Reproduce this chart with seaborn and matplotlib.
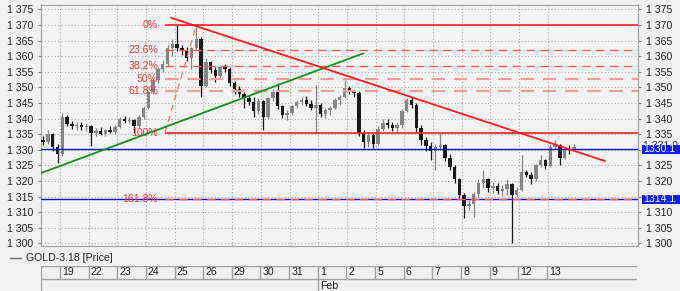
import matplotlib
matplotlib.use("Agg")
import matplotlib.pyplot as plt
import matplotlib.transforms as mtrans
from matplotlib.patches import Rectangle
from matplotlib.lines import Line2D
import numpy as np
import pandas as pd
import seaborn as sns

# ---------------- data ----------------
day_labels = ["19", "22", "23", "24", "25", "26", "29", "30", "31",
              "1", "2", "5", "6", "7", "8", "9", "12", "13"]
month_label = "Feb"
month_day_index = 9
series_name = "GOLD-3.18 [Price]"

opens = [1333, 1332.5, 1335, 1331,
         1328.5, 1340.5, 1338.2, 1337.5, 1338, 1337.2,
         1337.6, 1335.5, 1336, 1335.2, 1336.3, 1335.8,
         1337.2, 1340, 1339.2, 1339.5, 1337.5, 1340.5,
         1343.5, 1348.5, 1352.5, 1355.8, 1357.5, 1362.5,
         1363.8, 1362.5, 1361.5, 1359.5, 1362.5, 1365.5,
         1350.5, 1358, 1355.5, 1353.5, 1356.5, 1356,
         1351.5, 1349.5, 1348, 1346.5, 1345.2, 1342.5,
         1345.5, 1340.5, 1346.5, 1348.5, 1344, 1341.2,
         1341.8, 1344, 1345.3, 1345.8, 1344.8, 1343.5,
         1344.5, 1341.5, 1342.8, 1343.5, 1345.8, 1347,
         1349.8, 1348.5, 1348.2, 1335.5, 1332.5, 1334.8,
         1332, 1336.8, 1338.5, 1338, 1337, 1337.8,
         1342.5, 1345.8, 1344.5, 1337, 1333, 1331.2,
         1329.5, 1330.8, 1331.5, 1327.5, 1324.5, 1320.5,
         1315.5, 1312, 1312.5, 1315.8, 1319.2, 1320.5,
         1317.8, 1318.5, 1316.8, 1317.5, 1319, 1315.5,
         1317, 1322.8, 1322, 1320.5, 1325, 1326.8,
         1324.8, 1331, 1331.5, 1327.5, 1330.2, 1330]
highs = [1334.5, 1336.3, 1335.5, 1332,
         1341.7, 1341, 1339.2, 1338.8, 1339, 1338.5,
         1338, 1337, 1337.2, 1336.8, 1337.5, 1337.8,
         1340.6, 1340.8, 1340.5, 1339.8, 1341, 1344,
         1349, 1353, 1356.5, 1358.8, 1363.5, 1365.5,
         1370.1, 1363.5, 1362.8, 1363, 1369.5, 1366,
         1359.5, 1358.5, 1356.5, 1357, 1357.5, 1356.5,
         1352, 1350.3, 1348.5, 1347.5, 1346.8, 1346.5,
         1346, 1347, 1349.5, 1351.5, 1344.5, 1342.8,
         1344.5, 1346, 1347, 1347.2, 1345.8, 1350.8,
         1345, 1343.5, 1344, 1346.5, 1347.5, 1352.4,
         1350.5, 1349.2, 1348.8, 1336.2, 1335.8, 1335.5,
         1337.5, 1339.8, 1340, 1339, 1338.8, 1343,
         1346.5, 1347, 1345, 1337.8, 1334, 1332.5,
         1332, 1335.3, 1332, 1328.5, 1325.2, 1321,
         1316, 1314, 1316.5, 1320.5, 1323.5, 1321,
         1319.8, 1319.2, 1318.7, 1320.8, 1319.5, 1318,
         1328.3, 1323.5, 1322.8, 1325.5, 1328.2, 1327.2,
         1331.8, 1333.1, 1332, 1330.8, 1331.5, 1332]
lows = [1331.5, 1332, 1329.5, 1325.8,
        1328, 1337.5, 1336.8, 1336.4, 1336.5, 1336,
        1331.2, 1334.5, 1334.8, 1334.3, 1335.3, 1335,
        1337, 1338.6, 1338.5, 1335.5, 1337, 1340,
        1343, 1347.8, 1351.5, 1355, 1357, 1360,
        1361.5, 1360.5, 1358.5, 1355.8, 1362, 1346.8,
        1350, 1354.5, 1351.8, 1353, 1355, 1350.5,
        1347.8, 1347, 1343.3, 1344.5, 1340.6, 1341.5,
        1336.5, 1340, 1345.5, 1343, 1340.2, 1339.5,
        1341.2, 1343.5, 1344.5, 1344, 1342.6, 1335.3,
        1340.5, 1340.1, 1341.3, 1343, 1344.5, 1346.5,
        1347.8, 1347, 1334.5, 1330.5, 1330.8, 1330.5,
        1331.5, 1336, 1337, 1336, 1335.8, 1337,
        1342, 1343.5, 1335.5, 1331.5, 1329.5, 1326.8,
        1323.5, 1330, 1326.5, 1323.5, 1319.5, 1314.5,
        1308, 1310.8, 1308.6, 1315, 1317.8, 1316.5,
        1316, 1315.8, 1315.2, 1315.5, 1300.2, 1315,
        1316.8, 1321.2, 1319, 1320, 1324.5, 1323.8,
        1324.5, 1330.2, 1325.1, 1327, 1328.8, 1329.8]
closes = [1332.5, 1335, 1331, 1328.5,
          1340.5, 1338.2, 1337.5, 1338, 1337.2, 1337.6,
          1335.5, 1336, 1335.2, 1336.3, 1335.8, 1337.2,
          1340, 1339.2, 1339.5, 1337.5, 1340.5, 1343.5,
          1348.5, 1352.5, 1355.8, 1357.5, 1362.5, 1363.8,
          1362.5, 1361.5, 1359.5, 1362.5, 1365.5, 1350.5,
          1358, 1355.5, 1353.5, 1356.5, 1356, 1351.5,
          1349.5, 1348, 1346.5, 1345.2, 1342.5, 1345.5,
          1340.5, 1346.5, 1348.5, 1344, 1341.2, 1341.8,
          1344, 1345.3, 1345.8, 1344.8, 1343.5, 1344.5,
          1341.5, 1342.8, 1343.5, 1345.8, 1347, 1349.8,
          1348.5, 1348.2, 1335.5, 1332.5, 1334.8, 1332,
          1336.8, 1338.5, 1338, 1337, 1337.8, 1342.5,
          1345.8, 1344.5, 1337, 1333, 1331.2, 1329.5,
          1330.8, 1331.5, 1327.5, 1324.5, 1320.5, 1315.5,
          1312, 1312.5, 1315.8, 1319.2, 1320.5, 1317.8,
          1318.5, 1316.8, 1317.5, 1319, 1315.5, 1317,
          1322.8, 1322, 1320.5, 1325, 1326.8, 1324.8,
          1331, 1331.5, 1327.5, 1330.2, 1330, 1331]

# trend lines (day units, price)
support_x = [-0.67, 10.57]
support_y = [1322.5, 1360.9]
resist_x = [3.87, 18.99]
resist_y = [1372.3, 1326.4]

# fibonacci retracement
fib_high = 1370.1
fib_low = 1335.5
fib_levels = [0, 23.6, 38.2, 50, 61.8, 100, 161.8]
fib_labels = ["0%", "23.6%", "38.2%", "50%", "61.8%", "100%", "161.8%"]
fib_x = [3.66, 4.76]   # from low anchor to high anchor

# horizontal price lines with right-side markers
hlines = [1330.1, 1314.1]
hline_labels = ["1330.1", "1314.1"]
last_price = 1331.3
last_price_label = "1 331.0"

yticks = [1300, 1305, 1310, 1315, 1320, 1325, 1330, 1335,
          1340, 1345, 1350, 1355, 1360, 1365, 1370, 1375]
ytick_labels = ["1 300", "1 305", "1 310", "1 315", "1 320", "1 325", "1 330", "1 335",
                "1 340", "1 345", "1 350", "1 355", "1 360", "1 365", "1 370", "1 375"]
# right axis: labels hidden under the price markers are left blank
ytick_labels_right = ["1 300", "1 305", "1 310", "", "1 320", "1 325", "", "1 335",
                      "1 340", "1 345", "1 350", "1 355", "1 360", "1 365", "1 370", "1 375"]

# ---------------- layout / style ----------------
W, H = 680, 291
bars_per_day = 6
first_bar_day = -0.667
x_min, x_max = -0.67, 20.14
y_min, y_max = 1299.17, 1376.4
FS = 7.6

sns.set_style("white")
plt.rcParams["font.family"] = ["Liberation Sans", "DejaVu Sans"]

fig = plt.figure(figsize=(W / 100, H / 100), dpi=100, facecolor="#f0f0f0")


def fx(px):
    return px / W


def fy(py):
    return 1 - py / H


ax = fig.add_axes([fx(40.7), fy(246), fx(638) - fx(40.7), (246 - 5) / H])
ax.set_facecolor("#f3f3f3")

# candles
df = pd.DataFrame({"open": opens, "high": highs, "low": lows, "close": closes})
df["x"] = first_bar_day + (np.arange(len(df)) + 0.5) / bars_per_day
up = df["close"] >= df["open"]
colors = np.where(up, "#858585", "#1a1a1a")
ax.vlines(df["x"], df["low"], df["high"], colors=colors, linewidth=0.9, zorder=3)
body_bottom = np.minimum(df["open"], df["close"])
body_h = np.maximum(np.abs(df["close"] - df["open"]), 0.3)
ax.bar(df["x"], body_h, bottom=body_bottom, width=0.12, color=colors,
       linewidth=0, zorder=3)

# horizontal blue lines
for p in hlines:
    ax.axhline(p, color="#1010d0", linewidth=1.0, zorder=4)

# fibonacci
fib_prices = [fib_high - lv / 100 * (fib_high - fib_low) for lv in fib_levels]
for lv, p, lab in zip(fib_levels, fib_prices, fib_labels):
    if lv in (0, 100):
        ax.hlines(p, fib_x[0], x_max, color="#ff2020", linewidth=1.2, zorder=5)
    elif lv in (50, 61.8):
        ax.hlines(p, fib_x[0], x_max, color="#f49a9a", linewidth=1.6,
                  linestyles=(0, (6, 4)), zorder=5)
    else:
        ax.hlines(p, fib_x[0], x_max, color="#ff5a5a", linewidth=1.0,
                  linestyles=(0, (6, 4)), zorder=5)
    ax.annotate(lab, xy=(fib_x[0], p), xytext=(-5, 0), textcoords="offset points",
                ha="right", va="center", fontsize=FS, color="#ff3434", zorder=6)

sns.lineplot(x=fib_x, y=[fib_low, fib_high], ax=ax, color="#ff6a6a",
             linewidth=0.9, linestyle=(0, (5, 4)), zorder=5)

# trend lines
sns.lineplot(x=support_x, y=support_y, ax=ax, color="#149014", linewidth=1.3, zorder=6)
sns.lineplot(x=resist_x, y=resist_y, ax=ax, color="#ff1a1a", linewidth=1.3, zorder=6)

ax.set_xlim(x_min, x_max)
ax.set_ylim(y_min, y_max)
ax.set_xlabel("")
ax.set_ylabel("")

# grid / ticks
ax.set_xticks(range(len(day_labels)))
ax.set_xticklabels([])
ax.set_yticks(yticks, ytick_labels)
ax.grid(True, color="#a8a8a8", linestyle=(0, (1, 2)), linewidth=0.8)
ax.set_axisbelow(True)
ax.tick_params(axis="x", length=0)
ax.tick_params(axis="y", length=2.5, color="#808080", labelsize=FS,
               labelcolor="#202020", left=True, right=False,
               labelleft=True, labelright=False, pad=3)
for s in ax.spines.values():
    s.set_color("#a0a0a0")
    s.set_linewidth(0.8)

axr = ax.twinx()
axr.set_ylim(y_min, y_max)
axr.set_yticks(yticks, ytick_labels_right)
axr.tick_params(axis="y", length=2.5, color="#808080", labelsize=FS,
                labelcolor="#202020", pad=3)
for s in axr.spines.values():
    s.set_visible(False)
axr.grid(False)

# right-side markers
bt = mtrans.blended_transform_factory(fig.transFigure, ax.transData)
fig.text(fx(642.7), last_price, last_price_label, transform=bt, fontsize=FS,
         color="#303030", va="center", ha="left", zorder=2)
box_h = 9.5 / ((246 - 5) / (y_max - y_min))
for p, lab in zip(hlines, hline_labels):
    fig.patches.append(Rectangle((fx(641.5), p - box_h / 2), fx(680) - fx(641.5), box_h,
                                 transform=bt, facecolor="#0a1ef0", edgecolor="none",
                                 zorder=3))
    fig.text(fx(643), p, lab, transform=bt, fontsize=FS, color="white",
             va="center", ha="left", zorder=4)

# legend
fig.lines.append(Line2D([fx(10), fx(21)], [fy(258), fy(258)], transform=fig.transFigure,
                        color="#707070", linewidth=1.0))
fig.text(fx(26), fy(258), series_name, fontsize=FS, color="#202020", va="center", ha="left")

# date strip
ax2 = fig.add_axes([fx(40.7), 0, fx(637) - fx(40.7), fy(265.7)])
ax2.set_xlim(x_min, x_max)
ax2.set_ylim(0, 1)
ax2.axis("off")
ax2.patch.set_alpha(0)
row_y = (291 - 279) / (291 - 265.7)
line_c = "#a0a0a0"
ax2.axhline(1, color=line_c, linewidth=1.0)
ax2.axhline(row_y, color=line_c, linewidth=1.0)
ax2.axvline(x_min, color=line_c, linewidth=1.0)
for i, lab in enumerate(day_labels):
    ymin = 0 if i == month_day_index else row_y
    ax2.vlines(i, ymin, 1, color=line_c, linewidth=1.0)
    ax2.text(i + 0.07, (1 + row_y) / 2, lab, fontsize=FS, color="#202020",
             ha="left", va="center")
ax2.text(month_day_index + 0.07, row_y / 2 - 0.02, month_label, fontsize=FS,
         color="#202020", ha="left", va="center")

fig.savefig("out.png", dpi=100, facecolor=fig.get_facecolor())
